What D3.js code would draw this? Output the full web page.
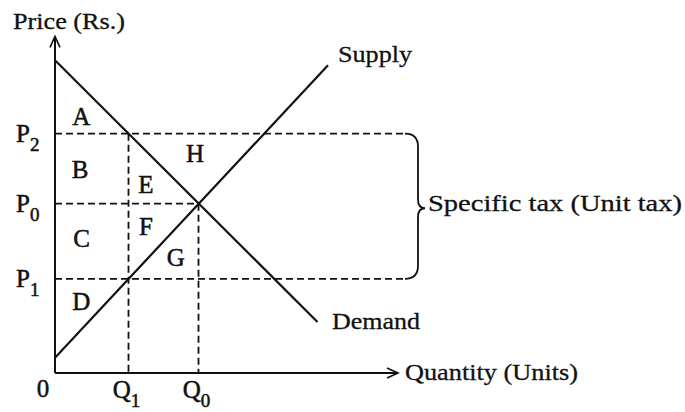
<!DOCTYPE html>
<html>
<head>
<meta charset="utf-8">
<script src="https://cdn.jsdelivr.net/npm/d3@7"></script>
<style>
  body { margin: 0; background: #fff; }
  svg text { font-family: "Times New Roman", "Liberation Serif", Tinos, serif; }
</style>
</head>
<body>
<div id="chart"></div>
<script>
// data, in chart units (quantity on x, price on y)
const demandQ = [0, 7.5];
const demandP = [9.2, 1.5];
const supplyQ = [0, 7.8];
const supplyP = [0.45, 9.05];

const priceNames = ['P2', 'P0', 'P1'];
const priceValues = [7.04, 4.98, 2.77];
const quantityNames = ['Q1', 'Q0'];
const quantityValues = [2.1, 4.1];

const areaNames = ['A', 'B', 'C', 'D', 'E', 'F', 'G', 'H'];
const areaQ = [0.75, 0.72, 0.76, 0.75, 2.6, 2.6, 3.45, 4.0];
const areaP = [7.3, 5.75, 3.7, 1.85, 5.3, 4.05, 3.15, 6.2];

const WIDTH = 685, HEIGHT = 412;
const MARGIN = { LEFT: 55, BOTTOM: 39, TOP: 33 };

const x = d3.scaleLinear().domain([0, 10]).range([MARGIN.LEFT, MARGIN.LEFT + 350]);
const y = d3.scaleLinear().domain([0, 10]).range([HEIGHT - MARGIN.BOTTOM, MARGIN.TOP]);

const svg = d3.select('#chart').append('svg')
    .attr('width', WIDTH)
    .attr('height', HEIGHT);

const ink = '#111';
const line = d3.line().x(d => x(d[0])).y(d => y(d[1]));

// axes with open arrow heads
const yTop = 9.9, xEnd = 9.8;
svg.append('path')
    .attr('d', line([[0, 0], [0, yTop]]))
    .attr('stroke', ink).attr('stroke-width', 2).attr('fill', 'none');
svg.append('path')
    .attr('d', `M${x(0) - 5},${y(yTop) + 11} L${x(0)},${y(yTop)} L${x(0) + 5},${y(yTop) + 11}`)
    .attr('stroke', ink).attr('stroke-width', 1.6).attr('fill', 'none');
svg.append('path')
    .attr('d', line([[0, 0], [xEnd, 0]]))
    .attr('stroke', ink).attr('stroke-width', 2).attr('fill', 'none');
svg.append('path')
    .attr('d', `M${x(xEnd) - 11},${y(0) - 5} L${x(xEnd)},${y(0)} L${x(xEnd) - 11},${y(0) + 5}`)
    .attr('stroke', ink).attr('stroke-width', 1.6).attr('fill', 'none');

// dashed guide lines
const dash = '7,4';
const qMax = 10;
const guides = [
  [[0, priceValues[0]], [qMax, priceValues[0]]],
  [[0, priceValues[1]], [quantityValues[1], priceValues[1]]],
  [[0, priceValues[2]], [qMax, priceValues[2]]],
  [[quantityValues[0], priceValues[0]], [quantityValues[0], 0]],
  [[quantityValues[1], priceValues[1]], [quantityValues[1], 0]]
];
svg.selectAll('path.guide')
  .data(guides)
  .enter().append('path')
    .attr('class', 'guide')
    .attr('d', d => line(d))
    .attr('stroke', ink)
    .attr('stroke-width', 1.8)
    .attr('stroke-dasharray', dash)
    .attr('fill', 'none');

// demand and supply
svg.append('path')
    .attr('d', line(demandQ.map((q, i) => [q, demandP[i]])))
    .attr('stroke', ink).attr('stroke-width', 2.2).attr('fill', 'none');
svg.append('path')
    .attr('d', line(supplyQ.map((q, i) => [q, supplyP[i]])))
    .attr('stroke', ink).attr('stroke-width', 2.2).attr('fill', 'none');

// curly brace for the tax wedge
const bx = x(qMax), bTop = y(priceValues[0]), bBot = y(priceValues[2]);
const bMid = (bTop + bBot) / 2 + 2;
const bv = bx + 13, bp = bx + 20;
svg.append('path')
    .attr('d', `M${bx},${bTop} Q${bv},${bTop} ${bv},${bTop + 13}
                L${bv},${bMid - 9} Q${bv},${bMid} ${bp},${bMid}
                Q${bv},${bMid} ${bv},${bMid + 9}
                L${bv},${bBot - 13} Q${bv},${bBot} ${bx},${bBot}`)
    .attr('stroke', ink).attr('stroke-width', 1.8).attr('fill', 'none');

// every label gets a thin stroke so it reads as heavy as the scan
function heavy(sel) {
  sel.attr('fill', ink).attr('stroke', ink).attr('stroke-width', 0.5);
}

// area letters
svg.selectAll('text.area')
  .data(areaNames)
  .enter().append('text')
    .attr('class', 'area')
    .attr('x', (d, i) => x(areaQ[i]))
    .attr('y', (d, i) => y(areaP[i]))
    .attr('text-anchor', 'middle')
    .attr('font-size', 25)
    .call(heavy)
    .text(d => d);

// price labels with subscripts
const pl = svg.selectAll('text.plabel')
  .data(priceNames)
  .enter().append('text')
    .attr('class', 'plabel')
    .attr('x', 16)
    .attr('y', (d, i) => y(priceValues[i]) + 8)
    .attr('font-size', 25)
    .call(heavy);
pl.append('tspan').text(d => d[0]);
pl.append('tspan').attr('dy', 9).attr('font-size', 19).text(d => d.slice(1));

// quantity labels with subscripts
const ql = svg.selectAll('text.qlabel')
  .data(quantityNames)
  .enter().append('text')
    .attr('class', 'qlabel')
    .attr('x', (d, i) => x(quantityValues[i]) - 2)
    .attr('y', y(0) + 25)
    .attr('text-anchor', 'middle')
    .attr('font-size', 25)
    .call(heavy);
ql.append('tspan').text(d => d[0]);
ql.append('tspan').attr('dy', 9).attr('font-size', 19).text(d => d.slice(1));

svg.append('text')
    .attr('x', x(0) - 12).attr('y', y(0) + 24)
    .attr('text-anchor', 'middle').attr('font-size', 25)
    .call(heavy)
    .text('0');

// titles and curve names
const titles = [
  { t: 'Price (Rs.)', x: 13, y: 29, w: 112 },
  { t: 'Supply', x: 338, y: 62, w: 74 },
  { t: 'Demand', x: 332, y: 329, w: 88 },
  { t: 'Quantity (Units)', x: 405, y: 380, w: 173 },
  { t: 'Specific tax (Unit tax)', x: 428, y: 211, w: 254 }
];
svg.selectAll('text.title')
  .data(titles)
  .enter().append('text')
    .attr('class', 'title')
    .attr('x', d => d.x)
    .attr('y', d => d.y)
    .attr('font-size', 24)
    .attr('textLength', d => d.w)
    .attr('lengthAdjust', 'spacingAndGlyphs')
    .call(heavy)
    .attr('stroke-width', 0.3)
    .text(d => d.t);
</script>
</body>
</html>
